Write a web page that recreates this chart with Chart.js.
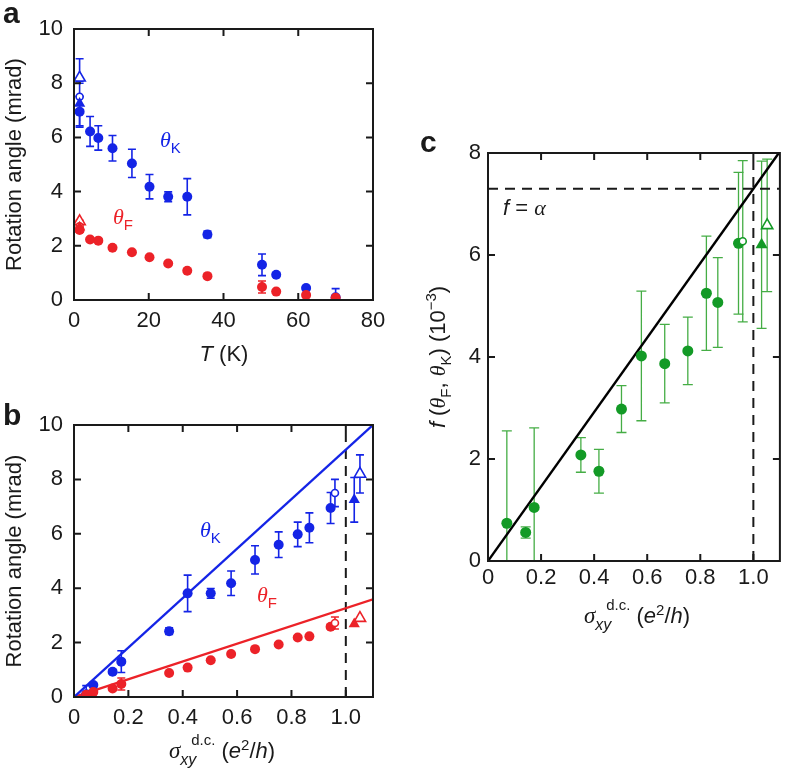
<!DOCTYPE html>
<html><head><meta charset="utf-8">
<script src="https://cdn.jsdelivr.net/npm/chart.js@4.4.1/dist/chart.umd.min.js"></script>
<style>
html,body{margin:0;padding:0;background:#fff;}
body{width:788px;height:775px;position:relative;overflow:hidden;}
canvas{position:absolute;display:block;}
</style></head><body>
<canvas id="ca" width="400" height="370" style="left:0;top:0;width:400px;height:370px"></canvas>
<canvas id="cb" width="400" height="405" style="left:0;top:370px;width:400px;height:405px"></canvas>
<canvas id="cc" width="388" height="560" style="left:400px;top:100px;width:388px;height:560px"></canvas>
<script>
// ---------- data ----------
// main series (same samples, ordered by decreasing sigma / increasing T)
const tempK     = [1.5, 4.3, 6.5, 10.3, 15.5, 20.2, 25.2, 30.3, 35.7, 50.3, 54.1, 62.1, 70.0];
const sigmaDC   = [0.944, 0.866, 0.823, 0.753, 0.666, 0.578, 0.503, 0.418, 0.350, 0.174, 0.142, 0.071, 0.045];
const thetaK    = [6.95, 6.22, 5.98, 5.60, 5.04, 4.18, 3.81, 3.81, 2.42, 1.30, 0.93, 0.44, 0.10];
const thetaKErr = [0.57, 0.55, 0.45, 0.47, 0.52, 0.45, 0.18, 0.67, 0.12, 0.40, 0.07, 0.06, 0.32];
const thetaF    = [2.58, 2.23, 2.19, 1.93, 1.76, 1.58, 1.35, 1.08, 0.88, 0.48, 0.31, 0.18, 0.08];
const thetaFErr = [0.08, 0, 0, 0, 0, 0, 0, 0, 0, 0.22, 0, 0, 0];
const fValue    = [6.23, 5.07, 5.25, 4.12, 3.87, 4.02, 2.98, 1.76, 2.08, 1.05, 0.56, 0.74, null];
const fErr      = [1.39, 0.88, 1.12, 0.66, 0.77, 1.27, 0.46, 0.43, 0.34, 1.56, 0.11, 1.81, null];
// special points: open circle, filled triangle, open triangle
const specTemp      = [1.5, 1.5, 1.5];
const specSigma     = [0.960, 1.031, 1.052];
const specThetaK    = [7.50, 7.25, 8.20];
const specThetaKErr = [0.50, 0.82, 0.70];
const specThetaF    = [2.72, 2.68, 2.90];
const specThetaFErr = [0.22, 0, 0];
const specF         = [6.27, 6.20, 6.58];
const specFErr      = [1.58, 1.64, 1.30];
// reference lines
const fitSigma  = [0, 1.1];
const fitThetaK = [0, 10.0];
const fitThetaF = [0, 3.59];
const fitF      = [0, 8.03];
const alphaLine = [7.297, 7.297];
const quantumX  = [1.0, 1.0];
const quantumYb = [0, 10];
const quantumYc = [0, 8];
// ticks
const tempTicks   = [0, 20, 40, 60, 80];
const tempLabels  = ['0', '20', '40', '60', '80'];
const angleTicks  = [0, 2, 4, 6, 8, 10];
const angleLabels = ['0', '2', '4', '6', '8', '10'];
const sigmaTicks  = [0, 0.2, 0.4, 0.6, 0.8, 1.0];
const sigmaLabels = ['0', '0.2', '0.4', '0.6', '0.8', '1.0'];
const fTicks      = [0, 2, 4, 6, 8];
const fLabels     = ['0', '2', '4', '6', '8'];

// ---------- styling ----------
const BLUE = '#1424e6', RED = '#ec2228', GREEN = '#139a26', GREEN_E = '#45ad45', INK = '#1a1a1a';
const SANS = '"Liberation Sans", Arial, sans-serif';
const SERIF = '"Liberation Serif", "Times New Roman", serif';

function pts(xs, ys) { const o = []; xs.forEach((x, i) => { if (ys[i] != null) o.push({x: x, y: ys[i]}); }); return o; }
function markers(xs, ys, color, style, r, open, order) {
  return { data: pts(xs, ys), showLine: false, pointStyle: style, pointRadius: r,
    pointBackgroundColor: open ? '#fff' : color, pointBorderColor: color,
    pointBorderWidth: open ? 1.6 : 0, order: order || 0 };
}
function line(xs, ys, color, width, dash) {
  return { data: pts(xs, ys), showLine: true, pointRadius: 0, borderColor: color,
    borderWidth: width, borderDash: dash || [], order: 10, tension: 0 };
}

const errPlugin = {
  id: 'errbars',
  beforeDatasetsDraw(chart, args, opts) {
    const {ctx, chartArea: a, scales: {x, y}} = chart;
    ctx.save();
    ctx.beginPath(); ctx.rect(a.left, a.top, a.right - a.left, a.bottom - a.top); ctx.clip();
    (opts.sets || []).forEach(s => {
      ctx.strokeStyle = s.color; ctx.lineWidth = s.lw;
      ctx.beginPath();
      s.xs.forEach((xv, i) => {
        const v = s.ys[i], e = s.errs[i];
        if (v == null || !e) return;
        const px = x.getPixelForValue(xv), p1 = y.getPixelForValue(v - e), p2 = y.getPixelForValue(v + e);
        ctx.moveTo(px, p1); ctx.lineTo(px, p2);
        ctx.moveTo(px - s.cap, p1); ctx.lineTo(px + s.cap, p1);
        ctx.moveTo(px - s.cap, p2); ctx.lineTo(px + s.cap, p2);
      });
      ctx.stroke();
    });
    ctx.restore();
  }
};

const framePlugin = {
  id: 'frame',
  afterDatasetsDraw(chart) {
    const {ctx, chartArea: a, scales: {x, y}} = chart;
    const L = 7;
    ctx.save();
    ctx.strokeStyle = INK; ctx.lineWidth = 2;
    ctx.beginPath();
    x.ticks.forEach(t => {
      const p = x.getPixelForValue(t.value);
      if (p <= a.left + 1 || p >= a.right - 1) return;
      ctx.moveTo(p, a.bottom); ctx.lineTo(p, a.bottom - L);
      ctx.moveTo(p, a.top); ctx.lineTo(p, a.top + L);
    });
    y.ticks.forEach(t => {
      const p = y.getPixelForValue(t.value);
      if (p <= a.top + 1 || p >= a.bottom - 1) return;
      ctx.moveTo(a.left, p); ctx.lineTo(a.left + L, p);
      ctx.moveTo(a.right, p); ctx.lineTo(a.right - L, p);
    });
    ctx.stroke();
    ctx.strokeRect(a.left, a.top, a.right - a.left, a.bottom - a.top);
    ctx.restore();
  }
};

function drawRich(ctx, item) {
  ctx.save();
  ctx.translate(item.x, item.y);
  if (item.rot) ctx.rotate(item.rot);
  ctx.textBaseline = 'alphabetic'; ctx.textAlign = 'left';
  const w = item.segs.map(s => { ctx.font = s.f; return ctx.measureText(s.t).width; });
  let total = 0; item.segs.forEach((s, i) => { total += w[i] - (s.back || 0); });
  let cx = item.align === 'center' ? -total / 2 : 0;
  item.segs.forEach((s, i) => {
    cx -= (s.back || 0);
    ctx.font = s.f; ctx.fillStyle = s.c || item.color || INK;
    ctx.fillText(s.t, cx, s.dy || 0);
    cx += w[i];
  });
  ctx.restore();
}
const textPlugin = {
  id: 'rich',
  afterDraw(chart, args, opts) { (opts.items || []).forEach(it => drawRich(chart.ctx, it)); }
};

function axis(min, max, ticks, labels, size, pad) {
  return {
    type: 'linear', min: min, max: max,
    afterBuildTicks: s => { s.ticks = ticks.map(v => ({value: v})); },
    ticks: { callback: (v, i) => labels[i], font: {family: SANS, size: 22}, color: INK, padding: pad,
      maxRotation: 0, autoSkip: false },
    grid: { display: false, drawTicks: false }, border: { display: false },
    afterFit: s => { if (s.isHorizontal()) s.height = size; else s.width = size; }
  };
}
function baseOptions(pad, xAxis, yAxis, errSets, items) {
  return {
    responsive: false, animation: false, devicePixelRatio: 1, events: [],
    layout: { padding: pad },
    scales: { x: xAxis, y: yAxis },
    plugins: { legend: {display: false}, tooltip: {enabled: false},
      errbars: { sets: errSets }, rich: { items: items } }
  };
}
const plugins = [errPlugin, framePlugin, textPlugin];
const sub = (t, c) => ({t: t, f: '15px ' + SANS, dy: 6, c: c});

// ---------- panel a ----------
new Chart(document.getElementById('ca'), {
  type: 'scatter',
  data: { datasets: [
    markers(specTemp.slice(1, 2), specThetaF.slice(1, 2), RED, 'triangle', 6.5, false, 0),
    markers(specTemp.slice(0, 1), specThetaF.slice(0, 1), RED, 'circle', 3.5, true, 1),
    markers(specTemp.slice(2, 3), specThetaF.slice(2, 3), RED, 'triangle', 6.5, true, 1),
    markers(tempK, thetaF, RED, 'circle', 5, false, 2),
    markers(specTemp.slice(1, 2), specThetaK.slice(1, 2), BLUE, 'triangle', 6.5, false, 0),
    markers(specTemp.slice(0, 1), specThetaK.slice(0, 1), BLUE, 'circle', 3.5, true, 1),
    markers(specTemp.slice(2, 3), specThetaK.slice(2, 3), BLUE, 'triangle', 6.5, true, 1),
    markers(tempK, thetaK, BLUE, 'circle', 5, false, 2)
  ]},
  options: baseOptions({left: 0, top: 29, right: 27, bottom: 0},
    axis(0, 80, tempTicks, tempLabels, 70, 8),
    axis(0, 10, angleTicks, angleLabels, 74, 11),
    [
      {xs: tempK, ys: thetaK, errs: thetaKErr, color: BLUE, lw: 1.6, cap: 4},
      {xs: specTemp, ys: specThetaK, errs: specThetaKErr, color: BLUE, lw: 1.6, cap: 4},
      {xs: tempK, ys: thetaF, errs: thetaFErr, color: RED, lw: 1.6, cap: 4},
      {xs: specTemp, ys: specThetaF, errs: specThetaFErr, color: RED, lw: 1.6, cap: 4}
    ],
    [
      {segs: [{t: 'a', f: 'bold 30px ' + SANS}], x: 3, y: 23},
      {segs: [{t: 'Rotation angle (mrad)', f: '22px ' + SANS}], x: 21, y: 164.5, rot: -Math.PI / 2, align: 'center'},
      {segs: [{t: 'T', f: 'italic 22px ' + SANS}, {t: ' (K)', f: '22px ' + SANS}], x: 224, y: 361, align: 'center'},
      {segs: [{t: 'θ', f: 'italic 22px ' + SERIF}, sub('K')], x: 160, y: 147, color: BLUE},
      {segs: [{t: 'θ', f: 'italic 22px ' + SERIF}, sub('F')], x: 113, y: 224, color: RED}
    ]),
  plugins: plugins
});

// ---------- panel b ----------
const sigmaTitle = [
  {t: 'σ', f: 'italic 23px ' + SERIF},
  {t: 'xy', f: 'italic 16px ' + SANS, dy: 7},
  {t: 'd.c.', f: '15px ' + SANS, dy: -13, back: 5},
  {t: ' (', f: '22px ' + SANS},
  {t: 'e', f: 'italic 22px ' + SANS},
  {t: '2', f: '15px ' + SANS, dy: -8},
  {t: '/', f: '22px ' + SANS},
  {t: 'h', f: 'italic 22px ' + SANS},
  {t: ')', f: '22px ' + SANS}
];
new Chart(document.getElementById('cb'), {
  type: 'scatter',
  data: { datasets: [
    markers(specSigma.slice(1, 2), specThetaF.slice(1, 2), RED, 'triangle', 6.5, false, 0),
    markers(specSigma.slice(0, 1), specThetaF.slice(0, 1), RED, 'circle', 3.5, true, 0),
    markers(specSigma.slice(2, 3), specThetaF.slice(2, 3), RED, 'triangle', 6.5, true, 0),
    markers(sigmaDC, thetaF, RED, 'circle', 5, false, 1),
    markers(specSigma.slice(1, 2), specThetaK.slice(1, 2), BLUE, 'triangle', 6.5, false, 0),
    markers(specSigma.slice(0, 1), specThetaK.slice(0, 1), BLUE, 'circle', 3.5, true, 0),
    markers(specSigma.slice(2, 3), specThetaK.slice(2, 3), BLUE, 'triangle', 6.5, true, 0),
    markers(sigmaDC, thetaK, BLUE, 'circle', 5, false, 1),
    line(fitSigma, fitThetaK, BLUE, 2.4),
    line(fitSigma, fitThetaF, RED, 2.4),
    line(quantumX, quantumYb, INK, 2, [10, 7])
  ]},
  options: baseOptions({left: 0, top: 55, right: 27, bottom: 0},
    axis(0, 1.1, sigmaTicks, sigmaLabels, 78, 8),
    axis(0, 10, angleTicks, angleLabels, 74, 11),
    [
      {xs: sigmaDC, ys: thetaK, errs: thetaKErr, color: BLUE, lw: 1.6, cap: 4},
      {xs: specSigma, ys: specThetaK, errs: specThetaKErr, color: BLUE, lw: 1.6, cap: 4},
      {xs: sigmaDC, ys: thetaF, errs: thetaFErr, color: RED, lw: 1.6, cap: 4},
      {xs: specSigma, ys: specThetaF, errs: specThetaFErr, color: RED, lw: 1.6, cap: 4}
    ],
    [
      {segs: [{t: 'b', f: 'bold 30px ' + SANS}], x: 3, y: 55},
      {segs: [{t: 'Rotation angle (mrad)', f: '22px ' + SANS}], x: 21, y: 191, rot: -Math.PI / 2, align: 'center'},
      {segs: sigmaTitle, x: 222, y: 388, align: 'center'},
      {segs: [{t: 'θ', f: 'italic 22px ' + SERIF}, sub('K')], x: 200, y: 167, color: BLUE},
      {segs: [{t: 'θ', f: 'italic 22px ' + SERIF}, sub('F')], x: 257, y: 232, color: RED}
    ]),
  plugins: plugins
});

// ---------- panel c ----------
new Chart(document.getElementById('cc'), {
  type: 'scatter',
  data: { datasets: [
    markers(specSigma.slice(0, 1), specF.slice(0, 1), GREEN, 'circle', 3.5, true, 0),
    markers(specSigma.slice(1, 2), specF.slice(1, 2), GREEN, 'triangle', 7, false, 0),
    markers(specSigma.slice(2, 3), specF.slice(2, 3), GREEN, 'triangle', 6.5, true, 0),
    markers(sigmaDC, fValue, GREEN, 'circle', 5.5, false, 1),
    line(fitSigma, fitF, '#000', 2.4),
    line(fitSigma, alphaLine, INK, 2, [10, 7]),
    line(quantumX, quantumYc, INK, 2, [10, 7])
  ]},
  options: baseOptions({left: 0, top: 53, right: 1, bottom: 0},
    axis(0, 1.1, sigmaTicks, sigmaLabels, 99, 4),
    axis(0, 8, fTicks, fLabels, 88, 7),
    [
      {xs: sigmaDC, ys: fValue, errs: fErr, color: GREEN_E, lw: 1.3, cap: 5},
      {xs: specSigma, ys: specF, errs: specFErr, color: GREEN_E, lw: 1.3, cap: 5}
    ],
    [
      {segs: [{t: 'c', f: 'bold 30px ' + SANS}], x: 20, y: 52},
      {segs: [
        {t: 'f', f: 'italic 22px ' + SANS},
        {t: ' (', f: '22px ' + SANS},
        {t: 'θ', f: 'italic 22px ' + SERIF},
        sub('F'),
        {t: ', ', f: '22px ' + SANS},
        {t: 'θ', f: 'italic 22px ' + SERIF},
        sub('K'),
        {t: ') (10', f: '22px ' + SANS},
        {t: '−3', f: '15px ' + SANS, dy: -9},
        {t: ')', f: '22px ' + SANS}
      ], x: 45, y: 257, rot: -Math.PI / 2, align: 'center'},
      {segs: sigmaTitle, x: 237, y: 523, align: 'center'},
      {segs: [{t: 'f', f: 'italic 22px ' + SANS}, {t: ' = ', f: '22px ' + SANS}, {t: 'α', f: 'italic 22px ' + SERIF}], x: 103, y: 115}
    ]),
  plugins: plugins
});
</script>
</body></html>
